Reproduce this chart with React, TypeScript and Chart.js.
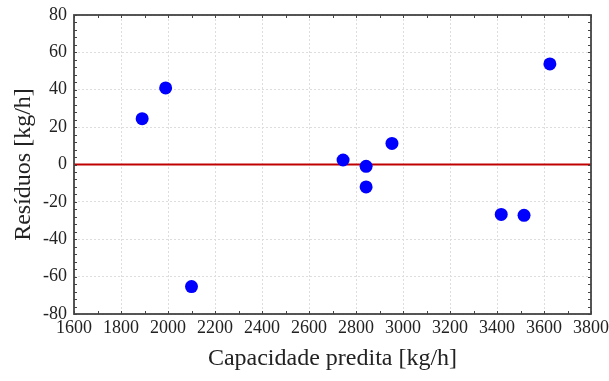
import React, { useEffect, useRef } from "react";
import { Chart, registerables } from "chart.js";

Chart.register(...registerables);

const predicted = [1890, 1990, 2100, 2745, 2843, 2843, 2953, 3418, 3515, 3625];
const residuals = [24.5, 41, -65.3, 2.4, -1, -12, 11.3, -26.7, -27.2, 53.8];
const zeroLineX = [1600, 3800];
const zeroLineY = [0, 0];
const xTitle = "Capacidade predita [kg/h]";
const yTitle = "Resíduos [kg/h]";

const framePlugin = {
  id: "frame",
  afterDraw(chart: any) {
    const { ctx, chartArea: a, scales } = chart;
    const xs = scales.x;
    const ys = scales.y;
    ctx.save();
    ctx.strokeStyle = "#444444";
    ctx.lineWidth = 1;
    const t = 3;
    ctx.beginPath();
    for (let v = 1600; v <= 3800; v += 100) {
      const px = Math.round(xs.getPixelForValue(v)) + 0.5;
      ctx.moveTo(px, a.bottom);
      ctx.lineTo(px, a.bottom - t);
      ctx.moveTo(px, a.top);
      ctx.lineTo(px, a.top + t);
    }
    for (let v = -80; v <= 80; v += 4) {
      const py = Math.round(ys.getPixelForValue(v)) + 0.5;
      ctx.moveTo(a.left, py);
      ctx.lineTo(a.left + t, py);
      ctx.moveTo(a.right, py);
      ctx.lineTo(a.right - t, py);
    }
    ctx.stroke();
    ctx.lineWidth = 1.8;
    ctx.strokeRect(a.left, a.top, a.right - a.left, a.bottom - a.top);
    ctx.restore();
  },
};

export default function App() {
  const ref = useRef<HTMLCanvasElement>(null);
  useEffect(() => {
    if (!ref.current) return;
    const font = "'Liberation Serif', 'Times New Roman', serif";
    const chart = new Chart(ref.current, {
      type: "scatter",
      data: {
        datasets: [
          {
            type: "scatter",
            data: predicted.map((x, i) => ({ x, y: residuals[i] })),
            backgroundColor: "#0000ff",
            borderWidth: 0,
            pointRadius: 6.5,
          },
          {
            type: "line",
            data: zeroLineX.map((x, i) => ({ x, y: zeroLineY[i] })),
            borderColor: "#c00000",
            borderWidth: 2,
            pointRadius: 0,
            fill: false,
          } as any,
        ],
      },
      options: {
        animation: false,
        responsive: true,
        maintainAspectRatio: false,
        layout: { padding: { top: 15, right: 18, left: 0, bottom: 0 } },
        plugins: { legend: { display: false }, tooltip: { enabled: false } },
        scales: {
          x: {
            type: "linear",
            min: 1600,
            max: 3800,
            ticks: {
              stepSize: 200,
              color: "#222",
              font: { family: font, size: 18 },
              padding: 3,
              maxRotation: 0,
              callback: (v: any) => String(v),
            },
            grid: { color: "#dddddd", drawTicks: false, lineWidth: 1 },
            border: { display: false, dash: [2, 2] },
            title: {
              display: true,
              text: xTitle,
              color: "#222",
              font: { family: font, size: 24 },
              padding: { top: 6, bottom: 8 },
            },
            afterFit(scale: any) {
              scale.height = 67;
              scale.paddingLeft = 0;
              scale.paddingRight = 0;
            },
          },
          y: {
            type: "linear",
            min: -80,
            max: 80,
            ticks: {
              stepSize: 20,
              color: "#222",
              font: { family: font, size: 18 },
              padding: 7,
              callback: (v: any) => String(v),
            },
            grid: { color: "#dddddd", drawTicks: false, lineWidth: 1 },
            border: { display: false, dash: [2, 2] },
            title: {
              display: true,
              text: yTitle,
              color: "#222",
              font: { family: font, size: 24 },
              padding: { top: 9, bottom: 6 },
            },
            afterFit(scale: any) {
              scale.width = 74;
              scale.paddingTop = 0;
              scale.paddingBottom = 0;
            },
          },
        },
      },
      plugins: [framePlugin],
    });
    return () => chart.destroy();
  }, []);
  return (
    <div style={{ position: "fixed", left: 0, top: 0, width: 609, height: 381, background: "#fff" }}>
      <canvas ref={ref} />
    </div>
  );
}
